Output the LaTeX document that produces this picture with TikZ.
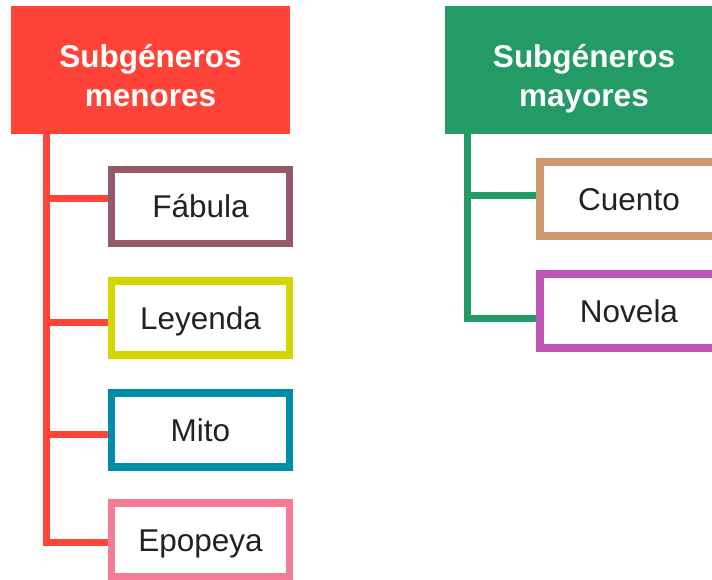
\documentclass[tikz,border=0pt]{standalone}
\usepackage{fontspec}
\setmainfont{Liberation Sans}
\definecolor{rojo}{RGB}{255,67,56}
\definecolor{verde}{RGB}{35,155,100}
\definecolor{fabcol}{RGB}{149,90,104}
\definecolor{leycol}{RGB}{212,214,0}
\definecolor{mitcol}{RGB}{0,141,168}
\definecolor{epocol}{RGB}{244,124,150}
\definecolor{cuecol}{RGB}{208,152,112}
\definecolor{novcol}{RGB}{192,85,181}
\definecolor{texto}{RGB}{34,34,34}
\tikzset{
  head/.style={minimum width=279pt,minimum height=128pt,inner sep=0pt,text=white,
    align=center,text height=72pt,text depth=0pt,font=\fontsize{31.5}{39}\selectfont\bfseries},
  item/.style={draw=#1,line width=7.5pt,fill=white,minimum width=178pt,minimum height=74pt,
    inner sep=0pt,text=texto,text height=22.5pt,text depth=0pt,font=\fontsize{31.5}{38}\selectfont},
  rama/.style={line width=7pt,draw=#1}
}
\begin{document}
\begin{tikzpicture}[x=1pt,y=-1pt]
\useasboundingbox (0,0) rectangle (712,579);
\clip (0,0) rectangle (712,579);
% menores
\node [head,fill=rojo] (menores) at (150.5,70) {Subgéneros\\menores};
\node [item=fabcol] (fabula) at (200.5,206.5) {Fábula};
\node [item=leycol] (leyenda) at (200.5,318) {Leyenda};
\node [item=mitcol] (mito) at (200.5,430) {Mito};
\node [item=epocol] (epopeya) at (200.5,540) {Epopeya};
\coordinate (r0) at (46,134);
\coordinate (r1) at (46,198);
\coordinate (r2) at (46,322);
\coordinate (r3) at (46,434);
\coordinate (r4) at (46,542);
\draw [rama=rojo] (r0) -- ([yshift=-3.5pt]r4);
\draw [rama=rojo] (r1) -- (r1 -| fabula.west);
\draw [rama=rojo] (r2) -- (r2 -| leyenda.west);
\draw [rama=rojo] (r3) -- (r3 -| mito.west);
\draw [rama=rojo] (r4) -- (r4 -| epopeya.west);
% mayores
\node [head,fill=verde] (mayores) at (584,70) {Subgéneros\\mayores};
\node [item=cuecol] (cuento) at (629,199) {Cuento};
\node [item=novcol] (novela) at (629,311) {Novela};
\coordinate (g0) at (467,134);
\coordinate (g1) at (467,195);
\coordinate (g2) at (467,318);
\draw [rama=verde] (g0) -- ([yshift=-3.5pt]g2);
\draw [rama=verde] (g1) -- (g1 -| cuento.west);
\draw [rama=verde] (g2) -- (g2 -| novela.west);
\end{tikzpicture}
\end{document}
